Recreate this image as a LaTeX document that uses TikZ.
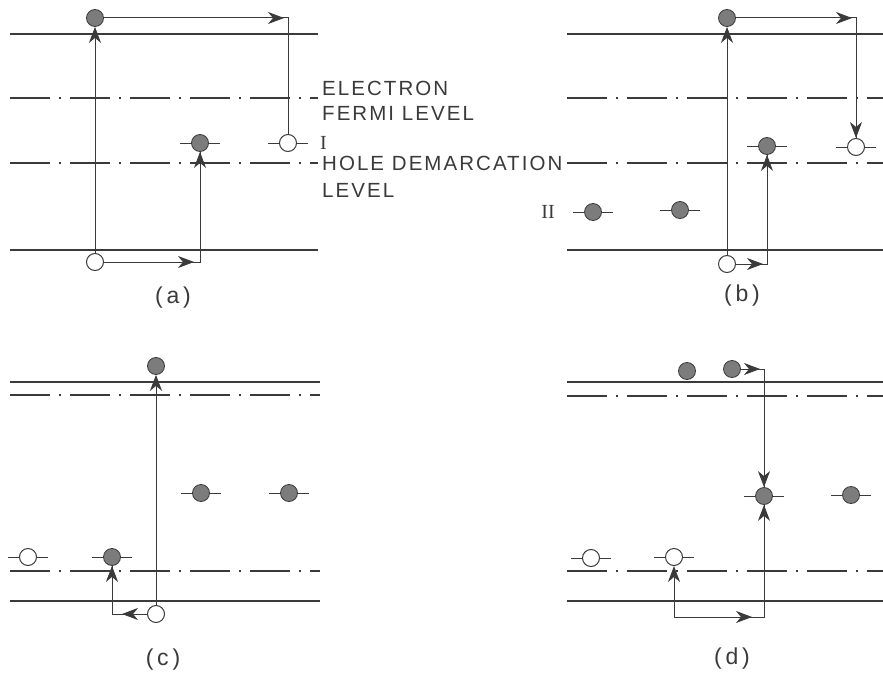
\documentclass[tikz,border=0pt]{standalone}
\usepackage{fontspec}
\setmainfont{Liberation Sans}
\newfontfamily\lettering[LetterSpace=10]{Liberation Sans}
\newfontfamily\numeral{Liberation Serif}
\usetikzlibrary{arrows.meta,calc,positioning}
\definecolor{ink}{HTML}{3A3A3A}
\definecolor{dot}{HTML}{7C7C7C}

\tikzset{
  band/.style={ink,line width=1.2pt},
  fermi/.style={ink,line width=1.2pt,dash pattern=on 40pt off 9pt on 2pt off 9pt},
  elec/.style={circle,draw=ink,fill=dot,line width=0.8pt,minimum size=17pt,inner sep=0pt},
  hole/.style={circle,draw=ink,fill=white,line width=1pt,minimum size=17pt,inner sep=0pt},
  tick/.style={draw=ink,line width=1pt},
  trap/.style={append after command={(\tikzlastnode.west) edge[tick] +(-11pt,0pt) (\tikzlastnode.east) edge[tick] +(11pt,0pt)}},
  wire/.style={ink,line width=1pt},
  flow/.style={ink,line width=1pt,-{Stealth[length=16pt,width=12pt,inset=5pt,line width=0.8pt]}},
  lbl/.style={font=\lettering\fontsize{20.5}{24}\selectfont,text=ink,inner sep=0pt},
  roman/.style={font=\numeral\fontsize{20}{24}\selectfont,text=ink,inner sep=0pt},
  panel/.style={font=\lettering\fontsize{23}{27}\selectfont,text=ink,inner sep=0pt},
}

\begin{document}
\begin{tikzpicture}[x=1pt,y=-1pt]
  \useasboundingbox (0,0) rectangle (883,674);
  % band edges and the two demarcation levels of every panel
  \foreach \xa/\xb/\yt/\yf/\yh/\yb in {10/318/34/98/163/250,567/883/34/98/163/250,10/320/382/395/571/601,567/883/382/396/571/601} {
    \draw[band] (\xa,\yt) -- (\xb,\yt);
    \draw[fermi] (\xa,\yf) -- (\xb,\yf);
    \draw[fermi] (\xa,\yh) -- (\xb,\yh);
    \draw[band] (\xa,\yb) -- (\xb,\yb);
  }

  % (a)
  \node[elec] (a1) at (95,18) {};
  \node[hole] (a2) at (95,262) {};
  \node[hole,trap] (a3) at (288,143) {};
  \node[elec,trap] (a4) at (200,143) {};
  \draw[flow] (a2) -- (a1);
  \draw[wire] (a1) -| (a3);
  \draw[flow,shorten >=4pt] (a1) -- (a1 -| a3);
  \draw[wire] (a2) -| (a4);
  \draw[flow,shorten >=6pt] (a2) -- (a2 -| a4);
  \draw[flow] (a2 -| a4) -- (a4);
  \node[panel] (pa) at (173,298) {(\,a\,)};

  % labels of the levels
  \node[lbl,anchor=west] (efl1) at (322,88) {ELECTRON};
  \node[lbl,anchor=west] (efl2) at (322,113) {FERMI LEVEL};
  \node[roman,anchor=west] (lvl1) at (320,143) {I};
  \node[lbl,anchor=west] (hdl1) at (322,163) {HOLE DEMARCATION};
  \node[lbl,anchor=west] (hdl2) at (322,190) {LEVEL};
  \node[roman] (lvl2) at (548,212) {II};

  % (b)
  \node[elec] (b1) at (727,18) {};
  \node[hole] (b2) at (727,264) {};
  \node[hole,trap] (b3) at (856,147) {};
  \node[elec,trap] (b4) at (767,146) {};
  \node[elec,trap] (b5) at (593,212) {};
  \node[elec,trap] (b6) at (680,210) {};
  \draw[flow] (b2) -- (b1);
  \draw[wire] (b1) -| (b3);
  \draw[flow,shorten >=4pt] (b1) -- (b1 -| b3);
  \draw[flow] (b1 -| b3) -- (b3);
  \draw[wire] (b2) -| (b4);
  \draw[flow,shorten >=4pt] (b2) -- (b2 -| b4);
  \draw[flow] (b2 -| b4) -- (b4);
  \node[panel] (pb) at (742,296) {(\,b\,)};

  % (c)
  \node[elec] (c1) at (156,366) {};
  \node[hole] (c2) at (156,614) {};
  \node[elec,trap] (c3) at (201,493) {};
  \node[elec,trap] (c4) at (289,493) {};
  \node[hole,trap] (c5) at (28,557) {};
  \node[elec,trap] (c6) at (112,557) {};
  \draw[flow] (c2) -- (c1);
  \draw[wire] (c2) -| (c6);
  \draw[flow,shorten >=10pt] (c2) -- (c2 -| c6);
  \draw[flow] (c2 -| c6) -- (c6);
  \node[panel] (pc) at (163,660) {(\,c\,)};

  % (d)
  \node[elec] (d1) at (687,371) {};
  \node[elec] (d2) at (732,369) {};
  \node[elec,trap] (d3) at (764,496) {};
  \node[elec,trap] (d4) at (851,495) {};
  \node[hole,trap] (d5) at (591,558) {};
  \node[hole,trap] (d6) at (674,557) {};
  \coordinate (dbase) at (674,617);
  \draw[wire] (d2) -| (d3);
  \draw[flow,shorten >=4pt] (d2) -- (d2 -| d3);
  \draw[flow] (d2 -| d3) -- (d3);
  \draw[flow] (dbase) -- (d6);
  \draw[wire] (dbase) -| (d3);
  \draw[flow,shorten >=12pt] (dbase) -- (dbase -| d3);
  \draw[flow] (dbase -| d3) -- (d3);
  \node[panel] (pd) at (732,659) {(\,d\,)};
\end{tikzpicture}
\end{document}
